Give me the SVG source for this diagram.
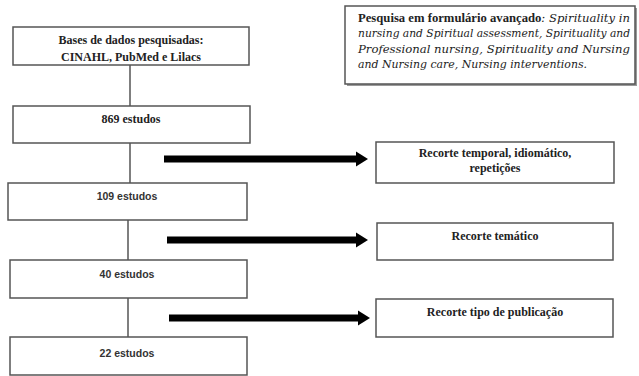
<svg xmlns="http://www.w3.org/2000/svg" width="639" height="376" viewBox="0 0 639 376">
<style>
.box{fill:#fff;stroke:#555;stroke-width:1.5}
.con{stroke:#555;stroke-width:1.5;fill:none}
.bar{stroke:#000;stroke-width:7;fill:none}
.head{fill:#000}
.ser{font-family:"Liberation Serif","Times New Roman",serif;font-size:12px;fill:#222;font-weight:bold}
.san{font-family:"Liberation Sans",Arial,sans-serif;font-size:10.5px;fill:#333;font-weight:bold}
.q{font-family:"Liberation Serif",serif;font-size:12px;fill:#222}
.it{font-family:"DejaVu Serif",serif;font-style:italic;font-size:11px}
</style>
<rect width="639" height="376" fill="#fff"/>
<g id="connectors">
<line class="con" x1="130" y1="65" x2="130" y2="106"/>
<line class="con" x1="130" y1="143" x2="130" y2="183"/>
<line class="con" x1="128" y1="220" x2="128" y2="260"/>
<line class="con" x1="128" y1="298" x2="128" y2="337"/>
<line class="bar" x1="164" y1="159" x2="358" y2="159"/>
<polygon class="head" points="356,151.5 368,159 356,166.5"/>
<line class="bar" x1="167" y1="240" x2="358" y2="240"/>
<polygon class="head" points="356,232.5 368,240 356,247.5"/>
<line class="bar" x1="169" y1="318" x2="360" y2="318"/>
<polygon class="head" points="358,310.5 370,318 358,325.5"/>
</g>
<g id="search">
<rect x="347" y="8" width="290" height="78" fill="#999"/>
<rect class="box" x="345" y="6" width="290" height="78"/>
<text class="q" x="358" y="22" textLength="272" lengthAdjust="spacingAndGlyphs"><tspan font-weight="bold">Pesquisa em formulário avançado</tspan><tspan class="it">: Spirituality in</tspan></text>
<text class="q it" x="358" y="37" textLength="272" lengthAdjust="spacingAndGlyphs">nursing and Spiritual assessment, Spirituality and</text>
<text class="q it" x="358" y="53" textLength="272" lengthAdjust="spacingAndGlyphs">Professional nursing, Spirituality and Nursing</text>
<text class="q it" x="358" y="68" textLength="229" lengthAdjust="spacingAndGlyphs">and Nursing care, Nursing interventions.</text>
</g>
<g id="n1">
<rect class="box" x="13" y="27" width="236" height="38"/>
<text class="ser" x="131" y="44" text-anchor="middle">Bases de dados pesquisadas:</text>
<text class="ser" x="131" y="61" text-anchor="middle">CINAHL,  PubMed e Lilacs</text>
</g>
<g id="n2">
<rect class="box" x="13" y="106" width="237" height="37"/>
<text class="ser" x="131" y="123" text-anchor="middle">869 estudos</text>
</g>
<g id="n3">
<rect class="box" x="8" y="183" width="239" height="37"/>
<text class="san" x="127" y="200" text-anchor="middle">109 estudos</text>
</g>
<g id="n4">
<rect class="box" x="10" y="260" width="237" height="38"/>
<text class="san" x="127" y="278" text-anchor="middle">40 estudos</text>
</g>
<g id="n5">
<rect class="box" x="10" y="337" width="237" height="38"/>
<text class="san" x="127" y="357" text-anchor="middle">22 estudos</text>
</g>
<g id="r1">
<rect class="box" x="376" y="142" width="238" height="41"/>
<text class="ser" x="495" y="157" text-anchor="middle">Recorte temporal, idiomático,</text>
<text class="ser" x="495" y="172" text-anchor="middle">repetições</text>
</g>
<g id="r2">
<rect class="box" x="377" y="223" width="236" height="37"/>
<text class="ser" x="495" y="240" text-anchor="middle">Recorte temático</text>
</g>
<g id="r3">
<rect class="box" x="376" y="299" width="237" height="38"/>
<text class="ser" x="495" y="316" text-anchor="middle">Recorte tipo de publicação</text>
</g>
</svg>
